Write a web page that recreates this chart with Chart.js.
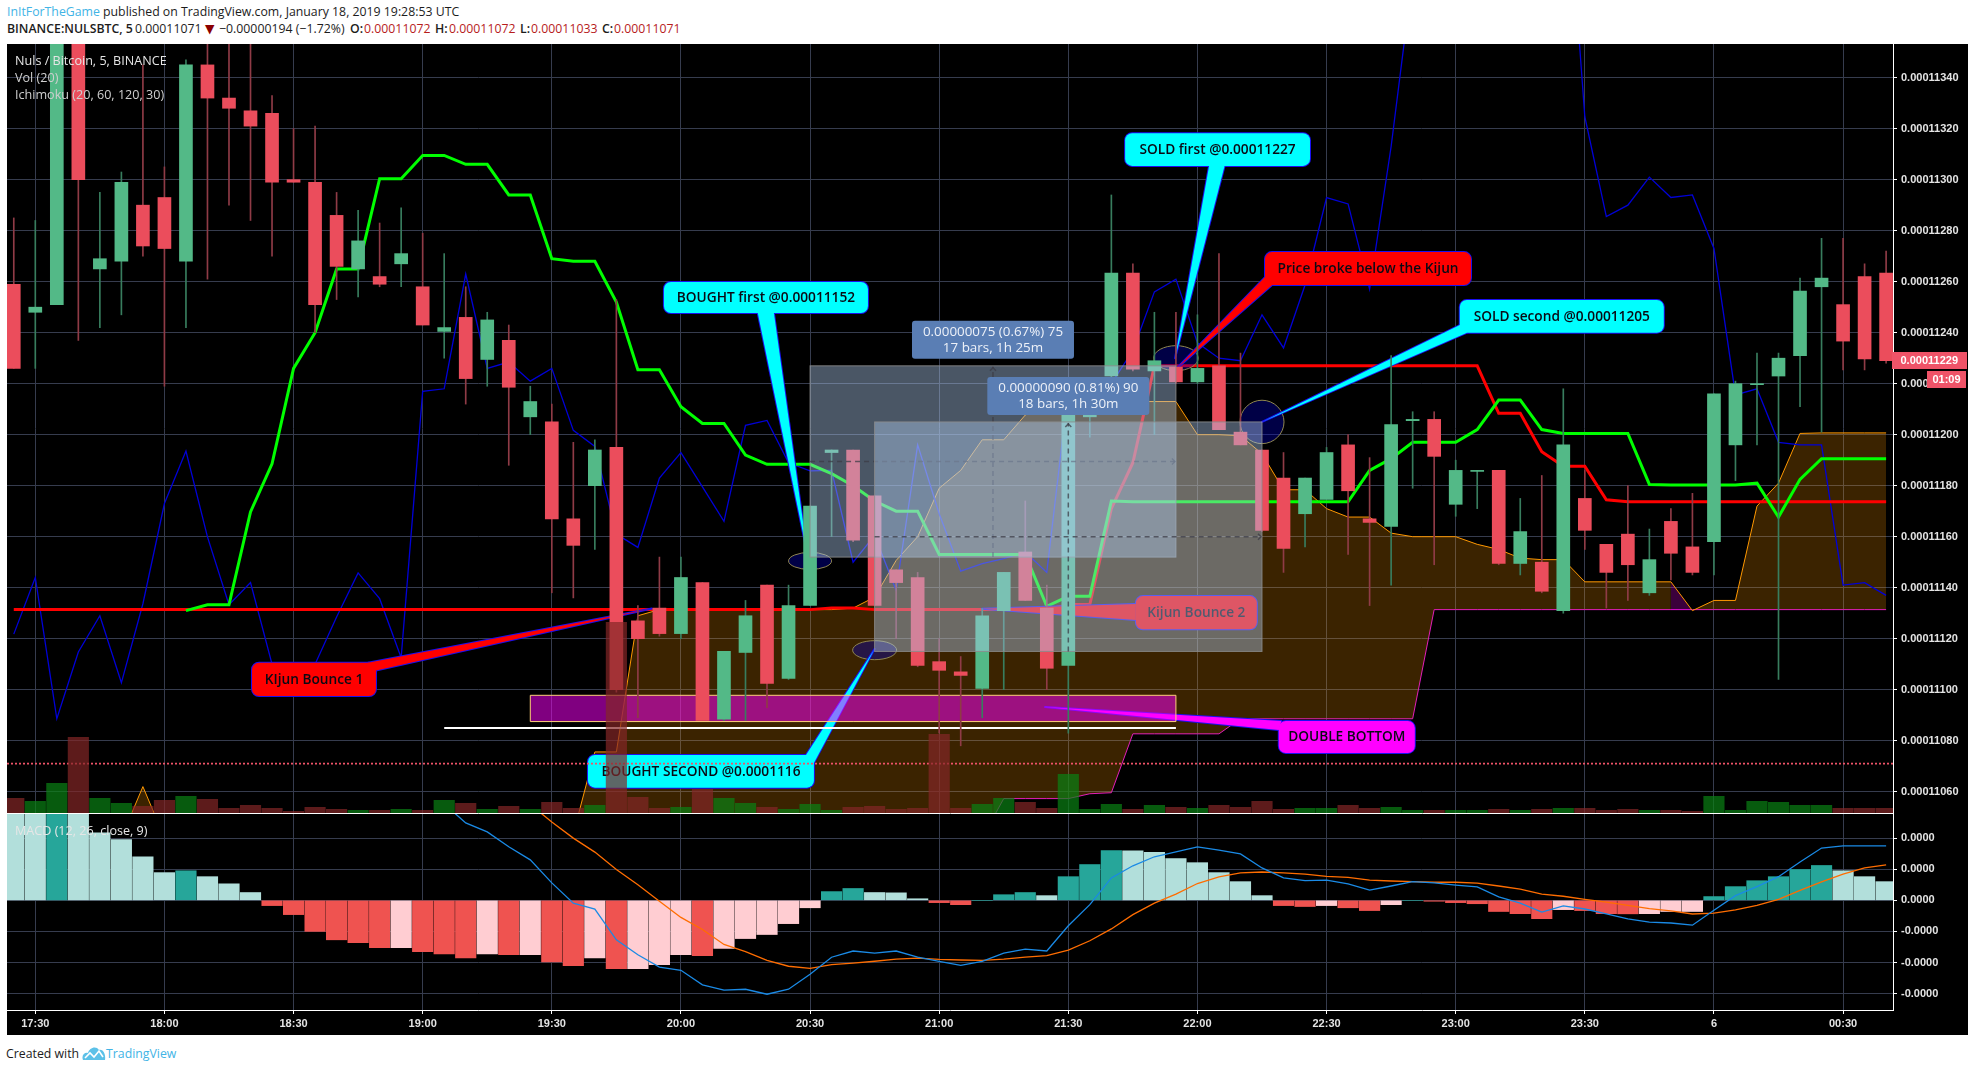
<!DOCTYPE html>
<html><head><meta charset="utf-8">
<style>
html,body{margin:0;padding:0;background:#fff;width:1975px;height:1072px;overflow:hidden}
.t{position:absolute;white-space:pre;font-family:"Open Sans",sans-serif;font-size:12.3px;line-height:16px;color:#1c1c1c}
.b{font-weight:600}.r{color:#b71c1c}.l{color:#42b4e6}
.p{color:#e6e6e6;font-size:12.6px;z-index:5}
#bg{position:absolute;left:7px;top:44px;width:1961px;height:991px;background:#000}
canvas{position:absolute;left:0}
</style>
<script src="https://cdn.jsdelivr.net/npm/chart.js"></script>
</head><body>
<div id="bg"></div>
<canvas id="main" width="1968" height="770" style="top:44px"></canvas>
<canvas id="macd" width="1968" height="221" style="top:814px"></canvas>

<div class="t" style="left:7px;top:4px"><span class="l">InItForTheGame</span> published on TradingView.com, January 18, 2019 19:28:53 UTC</div>
<div class="t b" style="left:7px;top:21px">BINANCE:NULSBTC, 5</div>
<div class="t" style="left:135px;top:21px">0.00011071</div>
<div class="t" style="left:205px;top:21px;color:#8b0000;font-family:'DejaVu Sans'">▼</div>
<div class="t" style="left:219px;top:21px">−0.00000194 (−1.72%)</div>
<div class="t b" style="left:350px;top:21px">O:</div><div class="t r" style="left:364px;top:21px">0.00011072</div>
<div class="t b" style="left:435px;top:21px">H:</div><div class="t r" style="left:449px;top:21px">0.00011072</div>
<div class="t b" style="left:520px;top:21px">L:</div><div class="t r" style="left:531px;top:21px">0.00011033</div>
<div class="t b" style="left:602px;top:21px">C:</div><div class="t r" style="left:614px;top:21px">0.00011071</div>

<div class="t p" style="left:15px;top:53px">Nuls / Bitcoin, 5, BINANCE</div>
<div class="t p" style="left:15px;top:70px;color:#cfcfcf">Vol (20)</div>
<div class="t p" style="left:15px;top:87px;color:#cfcfcf">Ichimoku (20, 60, 120, 30)</div>
<div class="t p" style="left:15px;top:823px">MACD (12, 26, close, 9)</div>

<div class="t" style="left:6px;top:1046px">Created with</div>
<svg style="position:absolute;left:82px;top:1046px" width="24" height="15" viewBox="0 0 24 15">
<path d="M1 14 C-1 9 3 6 6 7 C7 2 14 -1 17 4 C21 3 24 8 23 14 Z" fill="#5cc1e8"/>
<path d="M3 12 L8 7 L12 11 L17 5 L21 11" fill="none" stroke="#fff" stroke-width="1.6"/></svg>
<div class="t l" style="left:106px;top:1046px">TradingView</div>

<script>
// ---------- categories and tick labels ----------
const barIndex = Array.from({length:88},(_,i)=>i);           // one 5-minute bar each, first bar 17:25
const timeTickIndex  = [1,7,13,19,25,31,37,43,49,55,61,67,73,79,85];
const timeTickLabels = ['17:30','18:00','18:30','19:00','19:30','20:00','20:30','21:00','21:30','22:00','22:30','23:00','23:30','6','00:30'];
const priceTicks = [11340,11320,11300,11280,11260,11240,11220,11200,11180,11160,11140,11120,11100,11080,11060]; // 1e-8 BTC
const macdTicks  = [20,10,0,-10,-20,-30];

// ---------- candles (1e-8 BTC) ----------
const open = [11259,11248,11251,11400,11265,11268,11290,11293,11268,11345,
 11332,11327,11326,11300,11299,11286,11265,11262,11267,11258,
 11240.5,11246,11229.5,11237,11207,11205,11167,11180,11195,11127,
 11132,11122,11142,11088.4,11114.6,11141,11104.4,11133,11193,11194,
 11176,11147,11144,11111,11107,11100.5,11131,11154,11132,11109.5,
 11207,11223,11263.4,11225,11226.5,11220.7,11227,11201,11194,11183,
 11169,11174.6,11196,11167,11164,11205.5,11206,11172.7,11185.6,11186,
 11149.5,11150,11131,11175,11157,11161,11138,11166,11156,11158,
 11196,11219.6,11223,11231,11258,11251,11262,11263.4];
const high = [11285,11284,11390,11410,11295,11303,11345,11305,11347,11360,
 11360,11360,11333,11320,11321,11295,11288,11283,11289,11279,
 11271,11258,11248,11243,11219,11212,11197,11198,11253,11133,
 11152,11152,11142,11115,11135,11141,11141,11172,11194,11194,
 11176,11147,11146,11120,11113,11131.8,11146,11174,11141,11210,
 11215,11294,11267,11248,11248,11247,11271,11232,11194,11193,
 11183,11195,11200,11191,11231,11209,11209,11190,11186,11186,
 11175,11184,11218,11186,11157,11180,11163,11171,11177,11216,
 11221,11232,11232,11261.4,11277,11277,11267,11272];
const low = [11226,11226,11251,11237,11242,11247,11270,11219,11242,11261,
 11290,11284,11270,11299,11240,11253,11254,11258,11258,11243,
 11230,11212,11219,11188,11200,11138,11136,11155,11099,11089,
 11121,11120,11088,11088,11088,11093,11104,11133,11160,11158,
 11133,11120,11109,11083,11078,11089,11100,11135,11100,11083,
 11199,11210,11225,11200,11220,11220,11202,11196,11162,11146,
 11156,11175,11153,11133,11141,11179,11149,11168,11171,11149,
 11145,11138,11130,11155,11132,11135,11137,11143,11145,11145,
 11182,11196,11104,11211,11201,11225.4,11225.4,11228];
const close = [11226,11250,11375,11300,11269,11299,11274,11273,11345,11332,
 11328,11321,11299,11299,11251,11266,11276,11259,11271,11243,
 11242,11222,11245,11218.6,11213,11167,11156.6,11194,11100,11120,
 11122,11144,11088,11115,11129,11102.5,11133,11172,11194,11158.6,
 11133,11142,11109.5,11107.6,11105.6,11129,11146,11135,11108.4,11208,
 11209,11263.4,11225.7,11229,11220.7,11226,11202,11196,11162.5,11155.4,
 11183,11193,11178,11165.6,11204,11206,11191.5,11186,11186,11149.5,
 11162,11138.6,11196,11162.5,11146,11149,11151,11153.5,11146,11216,
 11220,11220,11230,11256.3,11261.4,11236.7,11229.7,11229];

// ---------- volume (relative units) ----------
const volume = [44,35,89,227,44,29,20,38,50,41,
 14,23,14,5,17,11,8,8,11,8,
 38,29,11,20,11,32,14,23,572,47,
 14,17,71,44,29,17,11,26,8,17,
 20,11,14,236,14,26,44,32,14,116,
 11,26,11,23,17,14,23,17,35,11,
 14,14,23,14,17,8,8,8,8,11,
 8,11,14,14,8,11,8,8,5,50,
 8,35,32,23,23,14,14,14];

// ---------- Ichimoku (1e-8 BTC) ----------
const tenkan = [null,null,null,null,null,null,null,null,11131,11133.3,
 11133.3,11169.7,11188.6,11226,11240,11265,11265,11300.4,11300.4,11309.5,
 11309.5,11306,11306,11294,11294,11269,11268,11268,11252,11225.5,
 11225.5,11211,11204.4,11204.4,11192,11188.4,11188.4,11188.4,11184.7,11180,
 11174,11170,11170,11153,11153,11153,11153,11153,11132.7,11136.6,
 11136.6,11174,11173.7,11173.7,11173.7,11173.7,11173.7,11173.7,11173.7,11173.7,
 11173.7,11173.7,11173.7,11186,11190.6,11197,11197,11197,11202,11213.6,
 11213.6,11202,11200.5,11200.5,11200.5,11200.5,11180.5,11180.3,11180.3,11180.3,
 11180.3,11181,11167.7,11182.5,11190.6,11190.6,11190.6,11190.6];
const kijun = [11131.4,11131.4,11131.4,11131.4,11131.4,11131.4,11131.4,11131.4,11131.4,11131.4,
 11131.4,11131.4,11131.4,11131.4,11131.4,11131.4,11131.4,11131.4,11131.4,11131.4,
 11131.4,11131.4,11131.4,11131.4,11131.4,11131.4,11131.4,11131.4,11131.4,11131.4,
 11131.4,11131.4,11131.4,11131.4,11131.4,11131.4,11131.4,11131.4,11132,11132,
 11131.4,11131.4,11131.4,11131.4,11131.4,11131.4,11131.4,11131.4,11131.4,11133.4,
 11133.4,11171,11189,11227,11227,11227,11227,11227,11227,11227,
 11227,11227,11227,11227,11227,11227,11227,11227,11227,11208.4,
 11208.4,11193.3,11187.6,11187.6,11174.5,11173.7,11173.7,11173.7,11173.7,11173.7,
 11173.7,11173.7,11173.7,11173.7,11173.7,11173.7,11173.7,11173.7];
const chikou = [11121.8,11144,11088.6,11114.8,11129,11102.7,11133.7,11173,11193.6,11159.9,
 11133.3,11142,11110,11101,11110,11128.5,11145.8,11135.7,11112.5,11217,
 11218,11263,11226,11228.5,11221,11226,11201.7,11195.4,11161,11155.8,
 11183,11193,11179.5,11166,11203.7,11205.6,11189,11185.8,11186,11150,
 11160.5,11139,11196,11169,11146.5,11149.4,11151.4,11154,11146,11217.5,
 11221,11220,11233,11256,11261,11236,11230,11229,11247,11234,
 11258.7,11293,11290.5,11257,11313,11380,11420,11430,11430,11420,
 11420,11430,11440,11324.7,11285.5,11290,11301,11293,11294,11273,
 11215.6,11218,11197,11196,11196,11141,11142,11137];
const senkouA = [11040,11040,11040,11040,11040,11042,11062,11042,11040,11040,
 11040,11040,11040,11040,11040,11040,11040,11040,11040,11040,
 11040,11040,11040,11040,11040,11040,11043.5,11075.6,11075.6,11129,
 11131.4,11131.4,11131.4,11131.4,11131.4,11131.4,11131.4,11131.4,11131.4,11132,
 11136.3,11150.7,11160,11179,11186,11198,11198,11207.7,11213,11213,
 11213,11213,11213,11213,11213,11200,11200,11199.6,11192.5,11178.4,
 11178.4,11171,11167.7,11167.7,11161.4,11160,11160,11160,11157,11155,
 11151.6,11151,11151,11142.3,11142.3,11142.3,11142.3,11142.3,11131,11135,
 11135,11172,11181,11200.5,11200.7,11200.7,11200.7,11200.7];
const senkouB = [11040,11040,11040,11040,11040,11040,11040,11040,11040,11040,
 11040,11040,11040,11040,11040,11040,11040,11040,11040,11040,
 11040,11040,11040,11040,11040,11040,11040,11040,11040,11040,
 11040,11040,11040,11040,11040,11040,11040,11040,11040,11040,
 11040,11040,11040,11040,11040,11042,11057.3,11057.3,11057.3,11057.3,
 11059.2,11059.6,11082.7,11082.7,11082.7,11082.7,11082.7,11088.6,11088.6,11088.6,
 11088.6,11088.6,11088.6,11088.6,11088.6,11088.6,11131.4,11131.4,11131.4,11131.4,
 11131.4,11131.4,11131.4,11131.4,11131.4,11131.4,11131.4,11131.4,11131.4,11131.4,
 11131.4,11131.4,11131.4,11131.4,11131.4,11131.4,11131.4,11131.4];
const lastPrice = 11071;
const lastTag = 11229;

// ---------- MACD (1e-8 BTC) ----------
const histogram = [40,35,38,30,21.7,19.5,14,8.9,9.5,7.6,
 5.3,2.5,-1.7,-4.6,-10,-12.7,-13.6,-15.2,-15.2,-16.5,
 -17.2,-18.5,-17.2,-17.5,-17.5,-19.8,-21,-18.5,-22,-22,
 -20.7,-17.5,-17.8,-15.5,-12.3,-11,-7.5,-2.4,2.8,3.8,
 2.5,2.4,0.5,-0.75,-1.4,0,1.8,2.5,1.5,7.6,
 11.5,16,15.9,15.4,13.4,12.1,8.9,6,1.5,-1.7,
 -2,-1.7,-2.4,-3.3,-1.4,0,-0.3,-0.75,-1.1,-3.6,
 -4.3,-5.9,-3,-3.3,-4.3,-4.35,-4.3,-3.6,-3.6,1.2,
 4.4,6.3,7.6,9.9,11.2,9.5,7.6,6];
const macdLine = [null,null,null,null,null,null,null,null,null,null,
 null,null,null,null,null,null,null,null,null,null,
 31,24.9,22,17.2,13,5.6,-0.9,-2.8,-12.7,-17.5,
 -21.5,-22.5,-27.2,-28.9,-28.6,-30.2,-28.6,-23.8,-18.3,-16.3,
 -17,-16.3,-18.3,-19.6,-20.9,-19.6,-17,-15.7,-16.3,-8.2,
 -1.4,7.2,11.1,14,15.6,17.2,16.1,14.9,10.4,7.2,
 6.3,6.5,5.3,3.3,4.6,6,5.6,4.9,4.3,1.1,
 -0.9,-3.8,-1.8,-2.8,-4.4,-6,-7,-7.3,-8,-3.2,
 1.5,4.4,7.6,12.3,16.8,17.5,17.5,17.5];
const signalLine = [null,null,null,null,null,null,null,null,null,null,
 null,null,null,null,null,null,null,null,null,null,
 null,null,null,null,30.8,25.2,20,15.5,9.9,5,
 -0.3,-5.5,-9.4,-14.2,-16.5,-19.3,-21.2,-21.9,-20.7,-20.2,
 -19.6,-18.9,-18.6,-19,-19.2,-19.3,-18.9,-18.3,-17.8,-16,
 -13,-9.2,-4.6,-0.9,2,5.4,7.5,8.8,9.1,8.8,
 8.4,7.7,7.4,6.5,6.2,6,5.8,5.8,5.5,4.6,
 3.6,2,1.3,0.3,-0.6,-1.6,-2.7,-3.4,-4.4,-4.1,
 -3.1,-1.6,0.3,3.2,5.9,8.4,10.4,11.4];

// ---------- drawings, anchored in (bar index, price) ----------
const callouts = [
 {text:'Kijun Bounce 2', box:[52.14,11136.7,57.76,11123.7], tail:[[52.14,11133.6],[52.14,11127.3],[44.99,11131.7]], fill:'#ff0000'},
 {text:'KIjun Bounce 1', box:[11.07,11110.6,16.83,11097.5], tail:[[16.46,11110.6],[16.83,11107.5],[29.65,11131.8]], fill:'#ff0000'},
 {text:'BOUGHT first @0.00011152', box:[30.21,11259.9,39.69,11247.7], tail:[[34.57,11247.7],[35.32,11247.7],[36.9,11152]], fill:'#00ffff'},
 {text:'BOUGHT SECOND @0.0001116', box:[26.68,11074.4,37.18,11061.6], tail:[[36.81,11074.4],[37.18,11071.3],[40,11116]], fill:'#00ffff'},
 {text:'DOUBLE BOTTOM', box:[58.78,11087.7,65.1,11075.2], tail:[[58.9,11087.7],[58.78,11084.2],[47.92,11093.2]], fill:'#ff00ff'},
 {text:'SOLD second @0.00011205', box:[67.19,11252.8,76.67,11240], tail:[[67.19,11243],[67.53,11240],[58,11205]], fill:'#00ffff'},
 {text:'Price broke below the Kijun', box:[58.14,11271.6,67.71,11258.7], tail:[[58.14,11261.8],[58.47,11258.7],[53.96,11225.4]], fill:'#ff0000'},
 {text:'SOLD first @0.00011227', box:[51.64,11318.2,60.23,11305.4], tail:[[55.54,11305.4],[56.26,11305.4],[53.96,11230]], fill:'#00ffff'}
];
const ellipses = [[37,11150.5,21.5,8.5],[40,11115.5,22,9.5],[54,11230,22.3,12.5],[58,11205,22,21.7]];
const measures = [
 {i0:37,i1:54,v0:11152,v1:11227,l1:'0.00000075 (0.67%) 75',l2:'17 bars, 1h 25m'},
 {i0:40,i1:58,v0:11115,v1:11205,l1:'0.00000090 (0.81%) 90',l2:'18 bars, 1h 30m'}
];
const purpleZone = [24,54,11097.8,11087.5];
const whiteLevel = [20,54,11085];

// ---------- colours ----------
const UP='#53b987', DOWN='#eb4d5c', UP_W='#387d5e', DOWN_W='#8f3b46', GRID='#363c4e', AXIS='#e4e4e4';
const isUp = i => close[i] >= open[i];

const pts = arr => arr.map((v,i)=>({x:barIndex[i],y:v}));
const rr = (ctx,x,y,w,h,r)=>{ctx.beginPath();ctx.roundRect(x,y,w,h,r);};
const noPad = s => { s.paddingTop=0; s.paddingBottom=0; s.paddingLeft=0; s.paddingRight=0; };

const drawingsPlugin = {
 id:'drawings',
 afterDatasetDraw(chart,args){
  if(chart.data.datasets[args.index].label!=='Tenkan') return;
  const ctx=chart.ctx, xs=chart.scales.x, ys=chart.scales.y;
  const X=i=>xs.getPixelForValue(i), Y=v=>ys.getPixelForValue(v);
  ctx.save();
  const a=chart.chartArea; ctx.beginPath();ctx.rect(a.left,a.top,a.width,a.height);ctx.clip();
  // ellipses
  for(const [i,v,rx,ry] of ellipses){
   ctx.beginPath();ctx.ellipse(X(i),Y(v),rx,ry,0,0,Math.PI*2);
   ctx.fillStyle='rgba(0,0,200,0.35)';ctx.fill();ctx.strokeStyle='#8f8650';ctx.lineWidth=1;ctx.stroke();
  }
  // callouts
  for(const c of callouts){
   const x0=X(c.box[0]),y0=Y(c.box[1]),x1=X(c.box[2]),y1=Y(c.box[3]);
   const tail=()=>{ctx.beginPath();c.tail.forEach((p,k)=>{k?ctx.lineTo(X(p[0]),Y(p[1])):ctx.moveTo(X(p[0]),Y(p[1]));});ctx.closePath();};
   ctx.strokeStyle='#1a10f0';ctx.lineWidth=2;ctx.lineJoin='round';
   rr(ctx,x0,y0,x1-x0,y1-y0,7);ctx.stroke();tail();ctx.stroke();
   ctx.fillStyle=c.fill;rr(ctx,x0,y0,x1-x0,y1-y0,7);ctx.fill();tail();ctx.fill();
   ctx.fillStyle='#0a0a14';ctx.font='600 13.7px "Open Sans"';ctx.textAlign='center';ctx.textBaseline='middle';
   ctx.fillText(c.text,(x0+x1)/2,(y0+y1)/2+0.5);
  }
  // purple zone and white level
  const [p0,p1,pv0,pv1]=purpleZone;
  ctx.fillStyle='rgba(255,0,255,0.5)';ctx.fillRect(X(p0),Y(pv0),X(p1)-X(p0),Y(pv1)-Y(pv0));
  ctx.strokeStyle='#ffd27a';ctx.lineWidth=1;ctx.strokeRect(X(p0),Y(pv0),X(p1)-X(p0),Y(pv1)-Y(pv0));
  ctx.strokeStyle='#ffffff';ctx.lineWidth=2;ctx.beginPath();ctx.moveTo(X(whiteLevel[0]),Y(whiteLevel[2]));ctx.lineTo(X(whiteLevel[1]),Y(whiteLevel[2]));ctx.stroke();
  ctx.restore();
 },
 afterDatasetsDraw(chart){
  const ctx=chart.ctx, xs=chart.scales.x, ys=chart.scales.y;
  const X=i=>xs.getPixelForValue(i), Y=v=>ys.getPixelForValue(v);
  ctx.save();
  for(const m of measures){
   const x0=X(m.i0),x1=X(m.i1),y0=Y(m.v1),y1=Y(m.v0);
   ctx.fillStyle='rgba(176,205,240,0.42)';ctx.fillRect(x0,y0,x1-x0,y1-y0);
   ctx.strokeStyle='rgba(140,140,140,0.85)';ctx.lineWidth=1;ctx.strokeRect(x0,y0,x1-x0,y1-y0);
   const cx=(x0+x1)/2, cy=(y0+y1)/2;
   ctx.strokeStyle='rgba(60,60,70,0.75)';ctx.lineWidth=1.5;ctx.setLineDash([5,4]);
   ctx.beginPath();ctx.moveTo(x0,cy);ctx.lineTo(x1-1,cy);ctx.moveTo(cx,y1);ctx.lineTo(cx,y0+1);ctx.stroke();ctx.setLineDash([]);
   ctx.beginPath();ctx.moveTo(x1-4,cy-3);ctx.lineTo(x1-1,cy);ctx.lineTo(x1-4,cy+3);ctx.moveTo(cx-3,y0+5);ctx.lineTo(cx,y0+2);ctx.lineTo(cx+3,y0+5);ctx.stroke();
   const lw=162,lh=38,ly=y0-7-lh;
   ctx.fillStyle='#5a7eb4';rr(ctx,cx-lw/2,ly,lw,lh,3);ctx.fill();
   ctx.fillStyle='#edf1f8';ctx.font='13.4px "Open Sans"';ctx.textAlign='center';ctx.textBaseline='middle';
   ctx.fillText(m.l1,cx,ly+11);ctx.fillText(m.l2,cx,ly+27.5);
  }
  ctx.restore();
 },
 afterDraw(chart){
  const ctx=chart.ctx, ys=chart.scales.y, y=Math.round(ys.getPixelForValue(lastTag)), r=chart.chartArea.right;
  ctx.save();
  ctx.fillStyle='#ef5368';ctx.fillRect(r-1,y-9,75,17);
  ctx.fillRect(r+34,y+10,39,17);
  ctx.fillStyle='#fff';ctx.font='bold 11px "Liberation Sans"';ctx.textBaseline='middle';ctx.textAlign='left';
  ctx.fillText((lastTag/1e8).toFixed(8),r+7.5,y);
  ctx.textAlign='center';ctx.fillText('01:09',r+53.5,y+19);
  ctx.restore();
 }
};

const X_MIN=-0.315, X_MAX=87.32;
const xBase={type:'linear',min:X_MIN,max:X_MAX,offset:false,
 afterBuildTicks:s=>{s.ticks=timeTickIndex.map(v=>({value:v}));},
 border:{color:'#ffffff',width:1}};

new Chart(document.getElementById('main'),{
 type:'line',
 plugins:[drawingsPlugin],
 data:{datasets:[
  {label:'Senkou B',data:pts(senkouB),borderColor:'#e010d0',borderWidth:1,pointRadius:0,order:100},
  {label:'Senkou A',data:pts(senkouA),borderColor:'#ff9800',borderWidth:1,pointRadius:0,order:99,
   fill:{target:0},backgroundColor:'rgba(255,152,0,0.23)',
   segment:{backgroundColor:c=>c.p0DataIndex===77?'rgba(255,0,255,0.23)':'rgba(255,152,0,0.23)'}},
  {label:'Chikou',data:pts(chikou),borderColor:'#0000d8',borderWidth:1.3,pointRadius:0,order:98},
  {label:'Kijun',data:pts(kijun),borderColor:'#ff0000',borderWidth:3,pointRadius:0,order:97},
  {label:'Tenkan',data:pts(tenkan),borderColor:'#00ff00',borderWidth:3,pointRadius:0,order:96},
  {type:'bar',label:'Wicks',data:barIndex.map(i=>({x:i,y:[low[i],high[i]]})),grouped:false,barPercentage:1,categoryPercentage:1,maxBarThickness:1,
   backgroundColor:barIndex.map(i=>isUp(i)?UP_W:DOWN_W),order:60},
  {type:'bar',label:'Bodies',data:barIndex.map(i=>({x:i,y:[open[i],close[i]]})),grouped:false,barPercentage:1,categoryPercentage:1,maxBarThickness:13,
   backgroundColor:barIndex.map(i=>isUp(i)?UP:DOWN),order:59},
  {label:'Last',data:[{x:X_MIN,y:lastPrice},{x:X_MAX,y:lastPrice}],borderColor:'#ef5368',borderWidth:1.6,borderDash:[2,2],pointRadius:0,order:20},
  {type:'bar',label:'Volume',yAxisID:'yVol',data:pts(volume),grouped:false,barPercentage:1,categoryPercentage:1,maxBarThickness:20.5,
   backgroundColor:barIndex.map(i=>isUp(i)?'rgba(10,130,20,0.7)':'rgba(132,38,38,0.7)'),order:10}
 ]},
 options:{responsive:false,animation:false,devicePixelRatio:1,
  layout:{padding:{left:7,top:0,right:0,bottom:1}},
  elements:{line:{tension:0}},
  plugins:{legend:{display:false},tooltip:{enabled:false}},
  scales:{
   x:{...xBase,grid:{color:GRID,offset:false,drawTicks:false},ticks:{display:false},afterFit:s=>{s.height=0;noPad(s);}},
   y:{type:'linear',position:'right',min:11051.65,max:11353.2,
    afterBuildTicks:s=>{s.ticks=priceTicks.map(v=>({value:v}));},
    afterFit:s=>{s.width=75;noPad(s);},
    grid:{color:GRID,tickColor:'#ffffff',tickLength:4},
    border:{color:'#ffffff',width:1},
    ticks:{color:AXIS,font:{family:'"Liberation Sans"',size:11,weight:'bold'},padding:4,callback:v=>(v/1e8).toFixed(8)}},
   yVol:{type:'linear',display:false,min:0,max:2307}
  }}
});

const histColor = barIndex.map(i=>{
 const rising = i===0 ? false : histogram[i]>=histogram[i-1];
 return histogram[i]>=0 ? (rising?'#26a69a':'#b2dfdb') : (rising?'#ffcdd2':'#ef5350');
});

new Chart(document.getElementById('macd'),{
 type:'line',
 data:{datasets:[
  {label:'Signal',data:pts(signalLine),borderColor:'#ff6d00',borderWidth:1.3,pointRadius:0,order:2},
  {label:'MACD',data:pts(macdLine),borderColor:'#1a8ae5',borderWidth:1.3,pointRadius:0,order:1},
  {type:'bar',label:'Histogram',data:pts(histogram),grouped:false,barPercentage:1,categoryPercentage:1,maxBarThickness:20.5,backgroundColor:histColor,order:5}
 ]},
 options:{responsive:false,animation:false,devicePixelRatio:1,
  layout:{padding:{left:7,top:0,right:0,bottom:0}},
  elements:{line:{tension:0}},
  plugins:{legend:{display:false},tooltip:{enabled:false}},
  scales:{
   x:{...xBase,afterFit:s=>{s.height=25;noPad(s);},
    grid:{color:GRID,tickColor:'#ffffff',tickLength:4,offset:false},
    ticks:{color:AXIS,font:{family:'"Liberation Sans"',size:11,weight:'bold'},padding:3,maxRotation:0,autoSkip:false,callback:(v,i)=>timeTickLabels[i]}},
   y:{type:'linear',position:'right',min:-35.27,max:27.75,
    afterBuildTicks:s=>{s.ticks=macdTicks.map(v=>({value:v}));},
    afterFit:s=>{s.width=75;noPad(s);},
    grid:{color:GRID,tickColor:'#ffffff',tickLength:4},
    border:{color:'#ffffff',width:1},
    ticks:{color:AXIS,font:{family:'"Liberation Sans"',size:11,weight:'bold'},padding:4,callback:v=>(v/1e8).toFixed(4)}}
  }}
});
</script>
</body></html>
